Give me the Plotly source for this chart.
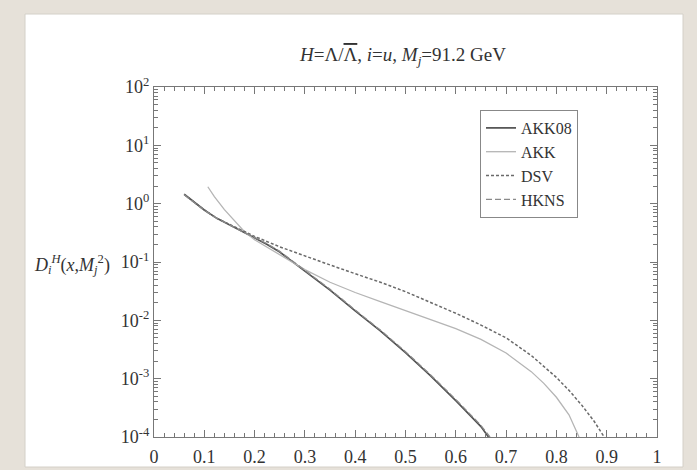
import plotly.graph_objects as go

# ---- data ----
x_akk08 = [0.06, 0.08, 0.10, 0.125, 0.15, 0.175, 0.20, 0.225, 0.25, 0.30, 0.35, 0.40, 0.45, 0.50, 0.55, 0.60, 0.65, 0.665]
y_akk08 = [1.45, 1.05, 0.78, 0.56, 0.43, 0.33, 0.26, 0.20, 0.148, 0.071, 0.033, 0.0145, 0.0066, 0.0028, 0.00112, 0.00042, 0.000151, 0.0001]

x_akk = [0.107, 0.12, 0.14, 0.16, 0.18, 0.20, 0.25, 0.30, 0.35, 0.40, 0.45, 0.50, 0.55, 0.60, 0.65, 0.70, 0.75, 0.775, 0.80, 0.825, 0.845]
y_akk = [1.95, 1.32, 0.79, 0.50, 0.33, 0.24, 0.132, 0.074, 0.045, 0.030, 0.021, 0.0148, 0.0105, 0.0072, 0.0047, 0.00275, 0.00132, 0.00083, 0.00048, 0.00024, 0.0001]

x_dsv = [0.06, 0.08, 0.10, 0.125, 0.15, 0.175, 0.20, 0.25, 0.30, 0.35, 0.40, 0.45, 0.50, 0.55, 0.60, 0.65, 0.70, 0.75, 0.80, 0.825, 0.85, 0.875, 0.895]
y_dsv = [1.45, 1.05, 0.78, 0.56, 0.44, 0.35, 0.275, 0.182, 0.126, 0.089, 0.063, 0.045, 0.031, 0.0204, 0.0132, 0.0083, 0.0050, 0.0025, 0.00105, 0.00063, 0.000355, 0.000186, 0.0001]

x_hkns = [0.06, 0.08, 0.10, 0.125, 0.15, 0.175, 0.20, 0.225, 0.25, 0.30, 0.35, 0.40, 0.45, 0.50, 0.55, 0.60, 0.65, 0.668]
y_hkns = [1.42, 1.04, 0.77, 0.56, 0.43, 0.335, 0.265, 0.205, 0.152, 0.073, 0.034, 0.0150, 0.0068, 0.0029, 0.00116, 0.00044, 0.000158, 0.0001]

x_ticks = [0, 0.1, 0.2, 0.3, 0.4, 0.5, 0.6, 0.7, 0.8, 0.9, 1]
x_tick_text = ["0", "0.1", "0.2", "0.3", "0.4", "0.5", "0.6", "0.7", "0.8", "0.9", "1"]
y_ticks = [1e-4, 1e-3, 1e-2, 1e-1, 1e0, 1e1, 1e2]
y_tick_text = ["10<sup>-4</sup>", "10<sup>-3</sup>", "10<sup>-2</sup>", "10<sup>-1</sup>",
               "10<sup>0</sup>", "10<sup>1</sup>", "10<sup>2</sup>"]

SERIF = "Liberation Serif"
TXT = "#333333"
AX = "#777777"

fig = go.Figure()
fig.add_trace(go.Scatter(x=x_akk08, y=y_akk08, mode="lines", name="AKK08",
                         line=dict(color="#505050", width=1.7)))
fig.add_trace(go.Scatter(x=x_akk, y=y_akk, mode="lines", name="AKK",
                         line=dict(color="#b5b5b5", width=1.3)))
fig.add_trace(go.Scatter(x=x_dsv, y=y_dsv, mode="lines", name="DSV",
                         line=dict(color="#6a6a6a", width=1.5, dash="3px,2px")))
fig.add_trace(go.Scatter(x=x_hkns, y=y_hkns, mode="lines", name="HKNS",
                         line=dict(color="#8a8a8a", width=1.3, dash="6px,3px")))

minor_y = [m * 10 ** e for e in range(-4, 2) for m in range(2, 10)]

fig.update_xaxes(range=[0, 1], tickvals=x_ticks, ticktext=x_tick_text,
                 ticks="inside", ticklen=7, tickcolor=AX, showline=True, linecolor=AX,
                 linewidth=1.2, mirror="allticks", showgrid=False, zeroline=False,
                 ticklabelstandoff=3, automargin=False,
                 tickfont=dict(family=SERIF, size=18, color=TXT),
                 minor=dict(ticks="inside", ticklen=4, tickcolor=AX, dtick=0.02, showgrid=False))
fig.update_yaxes(type="log", range=[-4, 2], tickvals=y_ticks, ticktext=y_tick_text,
                 ticks="inside", ticklen=7, tickcolor=AX, showline=True, linecolor=AX,
                 linewidth=1.2, mirror="allticks", showgrid=False, zeroline=False,
                 automargin=False,
                 tickfont=dict(family=SERIF, size=18, color=TXT),
                 minor=dict(ticks="inside", ticklen=4, tickcolor=AX, tickvals=minor_y, showgrid=False))

# white card behind the figure
fig.add_shape(type="rect", xref="paper", yref="paper", layer="below",
              x0=(25 - 154) / 503, x1=(683 - 154) / 503,
              y0=(437 - 467) / 350, y1=(437 - 14) / 350,
              fillcolor="white", line=dict(color="#d4d0c8", width=1))

fig.add_annotation(text="<i>H</i>=Λ/<span style='text-decoration:overline'>Λ</span>, <i>i</i>=<i>u</i>, <i>M</i><sub><i>j</i></sub>=91.2 GeV",
                   xref="paper", yref="paper", x=(402 - 154) / 503, y=(437 - 42) / 350,
                   showarrow=False, font=dict(family=SERIF, size=19, color=TXT))
fig.add_annotation(text="<i>D</i><sub><i>i</i></sub><sup><i>H</i></sup>(<i>x</i>,<i>M</i><sub><i>j</i></sub><sup>2</sup>)",
                   xref="paper", yref="paper", x=(112 - 154) / 503, y=(437 - 264) / 350,
                   xanchor="right", showarrow=False, font=dict(family=SERIF, size=18, color=TXT))

fig.update_layout(
    width=697, height=470,
    margin=dict(l=154, r=40, t=87, b=33),
    paper_bgcolor="#e6e1d9", plot_bgcolor="white",
    showlegend=True,
    legend=dict(x=(480 - 154) / 503, y=(437 - 110) / 350, xanchor="left", yanchor="top",
                bgcolor="white", bordercolor="#888888", borderwidth=1,
                font=dict(family=SERIF, size=16, color=TXT),
                itemwidth=30, tracegroupgap=0),
)

fig.write_html("out.html")
